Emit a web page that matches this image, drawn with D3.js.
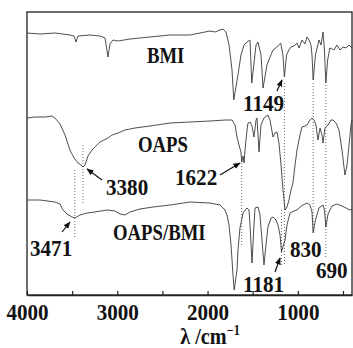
<!DOCTYPE html>
<html>
<head>
<meta charset="utf-8">
<script src="https://cdn.jsdelivr.net/npm/d3@7"></script>
<style>
  html, body { margin: 0; padding: 0; background: #fff; }
  svg { display: block; }
  text { font-family: "Liberation Serif", "Times New Roman", serif; font-weight: bold; fill: #111; }
</style>
</head>
<body>
<svg id="chart" width="353" height="348"></svg>
<script>
// FT-IR spectra, [wavenumber cm-1, offset transmittance (arb.)]
const bmi = [
  [4000,262],[3856,261],[3690,262],[3524,260],[3479,259],[3457,253],[3435,259],[3302,260],
  [3191,259],[3136,257],[3103,238],[3081,251],[3047,255],[2992,254],[2859,256],[2638,258],
  [2416,260],[2194,260],[2084,262],[1973,264],[1918,263],[1862,265],[1829,266],[1796,263],
  [1762,250],[1729,225],[1710,195],[1663,220],[1630,240],[1596,250],[1563,253],[1530,255],
  [1510,212],[1463,250],[1441,253],[1408,240],[1385,207],[1342,230],[1308,238],[1275,245],
  [1231,248],[1190,252],[1165,240],[1149,218],[1125,240],[1100,245],[1076,248],[1042,249],
  [1009,252],[987,247],[954,255],[921,251],[898,258],[876,255],[854,250],[843,240],
  [830,215],[805,240],[766,255],[743,250],[721,263],[705,245],[690,212],[670,235],
  [645,247],[599,245],[566,250],[533,245],[500,248],[466,247],[433,250],[400,247]
];
const oaps = [
  [4000,177],[3911,178],[3801,178],[3723,179],[3690,177],[3634,171],[3579,160],[3524,145],
  [3479,137],[3435,132],[3402,130],[3380,128],[3358,130],[3324,139],[3280,145],[3236,149],
  [3191,153],[3147,155],[3103,157],[3058,160],[2992,162],[2914,165],[2804,167],[2638,169],
  [2416,172],[2194,173],[1973,174],[1807,175],[1729,175],[1696,170],[1674,158],[1652,150],
  [1630,143],[1622,133],[1607,139],[1596,132],[1585,145],[1563,165],[1552,172],[1530,173],
  [1508,169],[1486,158],[1463,175],[1452,177],[1430,143],[1408,170],[1375,177],[1331,180],
  [1308,175],[1275,158],[1253,162],[1231,163],[1209,152],[1186,130],[1164,105],[1142,85],
  [1120,88],[1098,95],[1076,105],[1054,112],[1031,130],[1009,145],[976,160],[954,168],
  [921,169],[898,170],[865,175],[843,177],[821,175],[799,170],[777,155],[754,167],
  [732,160],[721,152],[699,167],[666,170],[633,175],[610,175],[577,172],[544,165],
  [511,145],[478,120],[455,130],[433,150],[411,170],[400,175]
];
const oapsBmi = [
  [4000,95],[3856,95],[3690,93],[3634,91],[3601,85],[3557,81],[3502,78],[3471,77],
  [3413,80],[3335,82],[3247,83],[3114,85],[3025,84],[2970,81],[2914,80],[2859,83],
  [2748,86],[2604,88],[2416,90],[2194,93],[1973,92],[1862,90],[1807,85],[1785,80],
  [1762,70],[1740,50],[1718,20],[1705,5],[1674,25],[1663,45],[1641,67],[1607,82],
  [1563,87],[1541,85],[1530,70],[1508,32],[1486,70],[1474,87],[1441,88],[1419,80],
  [1397,55],[1375,30],[1353,50],[1331,68],[1297,77],[1275,78],[1242,75],[1220,70],
  [1197,60],[1181,43],[1165,48],[1142,55],[1120,70],[1087,82],[1042,84],[1009,85],
  [976,88],[943,90],[898,92],[865,90],[843,83],[830,62],[805,75],[766,87],
  [721,90],[705,85],[690,68],[665,81],[622,89],[566,91],[511,89],[466,87],
  [422,85],[400,86]
];

const tickValues = [4000, 3500, 3000, 2500, 2000, 1500, 1000, 500];
const tickLabels = ['4000', '', '3000', '', '2000', '', '1000', ''];

// dotted guide lines: [wavenumber, from, to]
const guides = [
  [3380, 150, 90], [3471, 125, 57], [1622, 135, 50], [1181, 85, 30],
  [1149, 212, 30], [830, 212, 62], [690, 210, 38]
];
// labels: [text, wavenumber at left edge, baseline]
const seriesLabels = [['BMI', 2671, 232], ['OAPS', 2770, 143], ['OAPS/BMI', 3047, 55]];
const peakLabels = [
  ['1149', 1607, 184], ['3380', 3125, 100], ['1622', 2361, 110], ['3471', 3967, 39],
  ['830', 1087, 38], ['1181', 1607, 3], ['690', 799, 17]
];
// arrows: [tail w, tail v, tip w, tip v]
const arrows = [
  [1231, 204, 1175, 215], [3169, 115, 3335, 126], [1862, 120, 1641, 132],
  [3612, 63, 3524, 73], [1253, 23, 1197, 37]
];

const svg = d3.select('#chart');
const mLeft = 27, mRight = 352, mTop = 12, mBottom = 295;

const x = d3.scaleLinear().domain([4000, 400]).range([mLeft, mRight]);
const y = d3.scaleLinear().domain([0, 283]).range([mBottom, mTop]);

svg.append('defs').append('marker')
  .attr('id', 'head')
  .attr('viewBox', '0 0 10 10')
  .attr('refX', 9).attr('refY', 5)
  .attr('markerWidth', 6).attr('markerHeight', 6)
  .attr('orient', 'auto')
  .append('path').attr('d', 'M0,1 L10,5 L0,9 Z').attr('fill', '#111');

// frame
svg.append('rect')
  .attr('x', mLeft).attr('y', mTop)
  .attr('width', mRight - mLeft).attr('height', mBottom - mTop)
  .attr('fill', 'none').attr('stroke', '#222').attr('stroke-width', 1.3);

// guides
svg.append('g').selectAll('line')
  .data(guides).enter().append('line')
  .attr('x1', d => x(d[0])).attr('x2', d => x(d[0]))
  .attr('y1', d => y(d[1])).attr('y2', d => y(d[2]))
  .attr('stroke', '#555').attr('stroke-width', 0.9)
  .attr('stroke-dasharray', '1,2');

// spectra
const line = d3.line().x(d => x(d[0])).y(d => y(d[1]));
svg.append('g').selectAll('path')
  .data([bmi, oaps, oapsBmi]).enter().append('path')
  .attr('d', line)
  .attr('fill', 'none').attr('stroke', '#3a3a3a').attr('stroke-width', 0.9);

// axis
const axis = svg.append('g')
  .attr('transform', `translate(0,${mBottom})`)
  .call(d3.axisBottom(x).tickValues(tickValues)
    .tickSize(-4).tickSizeOuter(0)
    .tickFormat((d, i) => tickLabels[i]));
axis.select('.domain').attr('stroke', '#222').attr('stroke-width', 1.3);
axis.selectAll('.tick line').attr('stroke', '#222').attr('stroke-width', 1.2);
axis.selectAll('.tick text')
  .attr('y', 0).attr('dy', 0)
  .attr('transform', 'translate(0,25) scale(0.88,1)')
  .attr('font-size', null).attr('font-family', null)
  .style('font-size', '24px');

// axis title
const title = svg.append('text')
  .attr('transform', 'translate(210,344) scale(0.88,1)')
  .attr('text-anchor', 'middle')
  .style('font-size', '23px');
title.append('tspan').text('λ /cm');
title.append('tspan').attr('dy', -9).style('font-size', '14px').text('−1');

// labels
svg.append('g').selectAll('text')
  .data(seriesLabels).enter().append('text')
  .attr('transform', d => `translate(${x(d[1])},${y(d[2])}) scale(0.78,1)`)
  .style('font-size', '24px')
  .text(d => d[0]);

svg.append('g').selectAll('text')
  .data(peakLabels).enter().append('text')
  .attr('transform', d => `translate(${x(d[1])},${y(d[2])}) scale(0.88,1)`)
  .style('font-size', '24px')
  .text(d => d[0]);

svg.append('g').selectAll('line')
  .data(arrows).enter().append('line')
  .attr('x1', d => x(d[0])).attr('y1', d => y(d[1]))
  .attr('x2', d => x(d[2])).attr('y2', d => y(d[3]))
  .attr('stroke', '#111').attr('stroke-width', 1.2)
  .attr('marker-end', 'url(#head)');
</script>
</body>
</html>
